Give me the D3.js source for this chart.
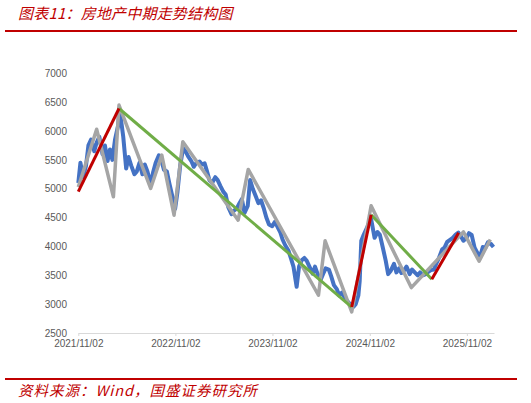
<!DOCTYPE html>
<html>
<head>
<meta charset="utf-8">
<script src="https://cdn.jsdelivr.net/npm/d3@7"></script>
<style>
  body { margin: 0; background: #fff; }
  svg { display: block; }
</style>
</head>
<body>
<div id="chart"></div>
<script>
// blue index line, roughly every ten days
const blueDates = [
  "2021-11-02","2021-11-10","2021-11-20","2021-12-01","2021-12-10","2021-12-20",
  "2022-01-01","2022-01-10","2022-01-20","2022-02-01","2022-02-10","2022-02-20",
  "2022-03-01","2022-03-10","2022-03-20","2022-04-01","2022-04-05","2022-04-10","2022-04-20",
  "2022-05-01","2022-05-10","2022-05-20","2022-06-01","2022-06-10","2022-06-20",
  "2022-07-01","2022-07-10","2022-07-20","2022-08-01","2022-08-10","2022-08-20",
  "2022-09-01","2022-09-10","2022-09-20","2022-10-01","2022-10-10","2022-10-20",
  "2022-11-01","2022-11-10","2022-11-20","2022-12-01","2022-12-10","2022-12-20",
  "2023-01-01","2023-01-10","2023-01-20","2023-02-01","2023-02-10","2023-02-20",
  "2023-03-01","2023-03-10","2023-03-20","2023-04-01","2023-04-10","2023-04-20",
  "2023-05-01","2023-05-10","2023-05-20","2023-06-01","2023-06-10","2023-06-20",
  "2023-07-01","2023-07-10","2023-07-20","2023-08-01","2023-08-10","2023-08-20",
  "2023-09-01","2023-09-10","2023-09-20","2023-10-01","2023-10-10","2023-10-20",
  "2023-11-01","2023-11-10","2023-11-20","2023-12-01","2023-12-10","2023-12-20",
  "2024-01-01","2024-01-10","2024-01-20","2024-02-01","2024-02-10","2024-02-20",
  "2024-03-01","2024-03-10","2024-03-20","2024-04-01","2024-04-10","2024-04-20",
  "2024-05-01","2024-05-10","2024-05-20","2024-06-01","2024-06-10","2024-06-20",
  "2024-07-01","2024-07-10","2024-07-20","2024-08-01","2024-08-10","2024-08-20",
  "2024-09-01","2024-09-10","2024-09-20","2024-09-25","2024-10-01","2024-10-10","2024-10-20",
  "2024-11-01","2024-11-05","2024-11-10","2024-11-20","2024-12-01","2024-12-10","2024-12-20",
  "2025-01-01","2025-01-10","2025-01-20","2025-02-01","2025-02-10","2025-02-20",
  "2025-03-01","2025-03-10","2025-03-20","2025-04-01","2025-04-10","2025-04-20",
  "2025-05-01","2025-05-10","2025-05-20","2025-06-01","2025-06-10","2025-06-20",
  "2025-07-01","2025-07-10","2025-07-20","2025-08-01","2025-08-10","2025-08-20",
  "2025-09-01","2025-09-10","2025-09-20","2025-10-01","2025-10-10","2025-10-20",
  "2025-11-01","2025-11-10","2025-11-20","2025-12-01","2025-12-10","2025-12-20",
  "2026-01-01","2026-01-10","2026-01-20","2026-02-01","2026-02-10"
]
const blueValues = [
  5100,5450,5200,5400,5750,5850,
  5650,5800,5900,5600,5750,5480,
  5680,5500,5850,6100,6350,6250,5900,
  5350,5550,5400,5250,5300,5450,
  5250,5420,5300,5080,5280,5450,
  5580,5500,5330,5300,5100,4900,
  4650,4950,5400,5700,5650,5560,
  5480,5380,5450,5470,5420,5440,
  5300,5150,5100,5200,5150,5050,
  4950,4900,4680,4560,4620,4650,
  4750,4820,4580,4700,5150,5000,
  4860,4750,4800,4650,4500,4380,
  4350,4420,4350,4250,4120,4020,
  3930,3800,3650,3300,3650,3760,
  3800,3750,3650,3530,3650,3520,
  3420,3520,3620,3600,3480,3330,
  3260,3150,3200,3100,3050,3000,
  2950,3000,3150,3400,4100,4200,4300,
  4420,4520,4400,4150,4250,4200,4000,
  3750,3520,3580,3700,3550,3620,
  3540,3580,3650,3520,3600,3550,
  3500,3550,3500,3520,3560,3590,
  3600,3700,3800,3950,3980,4080,
  4120,4150,4200,4240,4180,4100,
  4150,4230,4200,3980,3900,3800,
  3990,3970,4070,4040,3990
]

// grey zig-zag through the swing highs and lows
const pivotDates = [
  "2021-11-02","2022-01-10","2022-03-14","2022-04-04","2022-08-01","2022-09-12",
  "2022-10-28","2022-11-30","2023-06-26","2023-08-03","2024-04-23","2024-05-18",
  "2024-08-26","2024-11-07","2025-04-07","2025-10-20","2025-12-18","2026-01-29"
]
const pivotValues = [
  5030,6030,4860,6450,5005,5583,
  4541,5813,4455,5334,3154,4097,
  2865,4704,3287,4253,3743,4120
]

// medium-term trend legs
const upLegs = [
  [["2021-11-02", 4950], ["2022-04-04", 6390]],
  [["2024-08-26", 2950], ["2024-11-07", 4550]],
  [["2025-06-23", 3430], ["2025-10-02", 4235]]
]
const downLegs = [
  [["2022-04-04", 6390], ["2024-08-26", 2950]],
  [["2024-11-07", 4550], ["2025-06-23", 3430]]
]

const yTicks = [2500, 3000, 3500, 4000, 4500, 5000, 5500, 6000, 6500, 7000]
const xTicks = ["2021-11-02", "2022-11-02", "2023-11-02", "2024-11-02", "2025-11-02"]

const width = 531, height = 403
const parse = d3.timeParse("%Y-%m-%d")
const fmt = d3.timeFormat("%Y/%m/%d")
const red = "#C00000"

const svg = d3.select("#chart").append("svg")
    .attr("viewBox", [0, 0, width, height])
    .attr("width", width)
    .attr("height", height)

const xScale = d3.scaleTime()
    .domain([parse("2021-11-02"), parse("2026-02-12")])
    .range([78.3, 494])
const yScale = d3.scaleLinear()
    .domain([2500, 7000])
    .range([333, 73.3])

//title + rules
svg.append("text")
    .attr("x", 18).attr("y", 19)
    .attr("fill", red)
    .attr("font-family", "'Noto Sans CJK SC', sans-serif")
    .attr("font-size", 15)
    .attr("font-style", "italic")
    .attr("letter-spacing", 0.2)
    .text("图表11：房地产中期走势结构图")
svg.append("line")
    .attr("x1", 5).attr("x2", 517).attr("y1", 31).attr("y2", 31)
    .attr("stroke", red).attr("stroke-width", 2)
svg.append("line")
    .attr("x1", 5).attr("x2", 517).attr("y1", 379).attr("y2", 379)
    .attr("stroke", red).attr("stroke-width", 2)
svg.append("text")
    .attr("x", 18).attr("y", 396)
    .attr("fill", red)
    .attr("font-family", "'Noto Sans CJK SC', sans-serif")
    .attr("font-size", 14.5)
    .attr("font-style", "italic")
    .attr("letter-spacing", 1)
    .text("资料来源：Wind，国盛证券研究所")

//y axis labels only
const yAxis = svg.append("g")
    .attr("transform", "translate(70,0)")
    .call(d3.axisLeft(yScale).tickValues(yTicks).tickFormat(d3.format("d")).tickSize(0).tickPadding(3))
yAxis.select(".domain").remove()
yAxis.selectAll("text")
    .attr("fill", "#595959")
    .attr("font-family", "'Liberation Sans', Arial, sans-serif")
    .attr("font-size", 10)

//x axis
const xAxis = svg.append("g")
    .attr("transform", `translate(0,${yScale(2500)})`)
    .call(d3.axisBottom(xScale)
        .tickValues(xTicks.map(parse))
        .tickFormat(fmt)
        .tickSize(3)
        .tickSizeOuter(0)
        .tickPadding(4))
xAxis.select(".domain").attr("stroke", "#D9D9D9")
xAxis.selectAll(".tick line").attr("stroke", "#D9D9D9")
xAxis.selectAll("text")
    .attr("fill", "#595959")
    .attr("font-family", "'Liberation Sans', Arial, sans-serif")
    .attr("font-size", 10)

const line = d3.line()
    .x(d => xScale(parse(d[0])))
    .y(d => yScale(d[1]))

const draw_line = (rows, color, w) => {
    svg.append("path")
        .datum(rows)
        .attr("fill", "none")
        .attr("stroke", color)
        .attr("stroke-width", w)
        .attr("stroke-linejoin", "round")
        .attr("d", line)
}

draw_line(blueDates.map((d, i) => [d, blueValues[i]]), "#4472C4", 4)
draw_line(pivotDates.map((d, i) => [d, pivotValues[i]]), "#A5A5A5", 3.5)
downLegs.forEach(leg => draw_line(leg, "#70AD47", 3))
upLegs.forEach(leg => draw_line(leg, red, 3))
</script>
</body>
</html>
